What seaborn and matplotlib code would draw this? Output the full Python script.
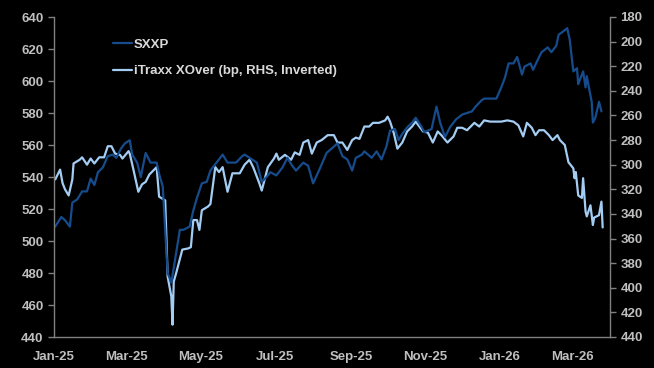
import pandas as pd
import matplotlib
matplotlib.use("Agg")
import matplotlib.pyplot as plt
import matplotlib.dates as mdates
import seaborn as sns

sns.set_style("dark")
plt.rcParams['font.family'] = ['Liberation Sans', 'DejaVu Sans']
plt.rcParams['font.weight'] = 'bold'

# SXXP index level (LHS)
sxxp_dates = [
    "2025-01-02", "2025-01-07", "2025-01-10", "2025-01-14", "2025-01-16", "2025-01-20",
    "2025-01-24", "2025-01-28", "2025-01-31", "2025-02-03", "2025-02-06", "2025-02-10",
    "2025-02-14", "2025-02-18", "2025-02-21", "2025-02-25", "2025-02-28", "2025-03-04",
    "2025-03-06", "2025-03-10", "2025-03-13", "2025-03-17", "2025-03-21", "2025-03-26",
    "2025-03-28", "2025-03-31", "2025-04-04", "2025-04-07", "2025-04-10", "2025-04-14",
    "2025-04-17", "2025-04-22", "2025-04-25", "2025-04-28", "2025-05-02", "2025-05-06",
    "2025-05-09", "2025-05-14", "2025-05-19", "2025-05-23", "2025-05-30", "2025-06-04",
    "2025-06-06", "2025-06-12", "2025-06-16", "2025-06-20", "2025-06-24", "2025-06-27",
    "2025-07-02", "2025-07-07", "2025-07-11", "2025-07-15", "2025-07-18", "2025-07-24",
    "2025-07-28", "2025-08-01", "2025-08-07", "2025-08-12", "2025-08-15", "2025-08-21",
    "2025-08-25", "2025-08-29", "2025-09-02", "2025-09-05", "2025-09-10", "2025-09-12",
    "2025-09-18", "2025-09-22", "2025-09-26", "2025-09-30", "2025-10-03", "2025-10-07",
    "2025-10-10", "2025-10-13", "2025-10-17", "2025-10-21", "2025-10-24", "2025-10-29",
    "2025-10-31", "2025-11-06", "2025-11-10", "2025-11-13", "2025-11-17", "2025-11-21",
    "2025-11-26", "2025-12-01", "2025-12-05", "2025-12-09", "2025-12-12", "2025-12-17",
    "2025-12-19", "2025-12-29", "2026-01-02", "2026-01-05", "2026-01-08", "2026-01-12",
    "2026-01-15", "2026-01-19", "2026-01-21", "2026-01-26", "2026-01-28", "2026-02-02",
    "2026-02-04", "2026-02-09", "2026-02-12", "2026-02-16", "2026-02-18", "2026-02-20",
    "2026-02-25", "2026-02-27", "2026-03-02", "2026-03-05", "2026-03-06", "2026-03-10",
    "2026-03-12", "2026-03-13", "2026-03-17", "2026-03-18", "2026-03-20", "2026-03-23",
    "2026-03-25",
]
sxxp_values = [
    509, 515, 513, 509, 524, 526,
    531, 531, 539, 535, 543, 546,
    553, 554, 552, 558, 561, 563,
    554, 549, 540, 555, 549, 549,
    542, 534, 480, 474, 488, 507,
    507, 509, 519, 527, 536, 537,
    544, 549, 554, 549, 549, 553,
    554, 551, 549, 537, 540, 543,
    541, 546, 552, 547, 544, 549,
    547, 536, 546, 555, 557, 561,
    553, 551, 544, 552, 554, 556,
    552, 556, 551, 559, 569, 570,
    563, 567, 571, 574, 577, 571,
    568, 570, 584, 574, 565, 571,
    576, 579, 580, 581, 584, 588,
    589, 589, 596, 602, 611, 611,
    615, 604, 609, 611, 607, 615,
    618, 621, 618, 622, 629, 630,
    633, 626, 606, 608, 598, 606,
    596, 603, 587, 574, 577, 587,
    581,
]

# iTraxx Crossover spread in bp (RHS, inverted)
xover_dates = [
    "2025-01-02", "2025-01-06", "2025-01-08", "2025-01-10", "2025-01-13", "2025-01-16",
    "2025-01-17", "2025-01-22", "2025-01-24", "2025-01-28", "2025-01-31", "2025-02-03",
    "2025-02-07", "2025-02-11", "2025-02-14", "2025-02-17", "2025-02-20", "2025-02-24",
    "2025-02-26", "2025-03-03", "2025-03-04", "2025-03-07", "2025-03-11", "2025-03-14",
    "2025-03-17", "2025-03-20", "2025-03-26", "2025-03-28", "2025-04-02", "2025-04-04",
    "2025-04-07", "2025-04-08", "2025-04-09", "2025-04-11", "2025-04-16", "2025-04-21",
    "2025-04-23", "2025-04-25", "2025-04-28", "2025-04-30", "2025-05-02", "2025-05-07",
    "2025-05-09", "2025-05-13", "2025-05-16", "2025-05-19", "2025-05-23", "2025-05-27",
    "2025-06-02", "2025-06-06", "2025-06-10", "2025-06-13", "2025-06-18", "2025-06-20",
    "2025-06-25", "2025-06-30", "2025-07-02", "2025-07-04", "2025-07-09", "2025-07-14",
    "2025-07-17", "2025-07-21", "2025-07-24", "2025-07-28", "2025-07-31", "2025-08-04",
    "2025-08-08", "2025-08-13", "2025-08-18", "2025-08-21", "2025-08-25", "2025-08-29",
    "2025-09-02", "2025-09-05", "2025-09-08", "2025-09-12", "2025-09-16", "2025-09-19",
    "2025-09-24", "2025-09-29", "2025-10-01", "2025-10-03", "2025-10-06", "2025-10-09",
    "2025-10-13", "2025-10-17", "2025-10-21", "2025-10-24", "2025-10-30", "2025-11-03",
    "2025-11-07", "2025-11-11", "2025-11-14", "2025-11-19", "2025-11-24", "2025-11-27",
    "2025-12-01", "2025-12-05", "2025-12-11", "2025-12-15", "2025-12-19", "2025-12-24",
    "2026-01-02", "2026-01-07", "2026-01-12", "2026-01-16", "2026-01-20", "2026-01-23",
    "2026-01-27", "2026-01-30", "2026-02-02", "2026-02-06", "2026-02-10", "2026-02-13",
    "2026-02-17", "2026-02-19", "2026-02-23", "2026-02-26", "2026-03-02", "2026-03-03",
    "2026-03-04", "2026-03-06", "2026-03-09", "2026-03-10", "2026-03-12", "2026-03-13",
    "2026-03-16", "2026-03-18", "2026-03-19", "2026-03-23", "2026-03-25", "2026-03-26",
]
xover_values = [
    312, 304, 315, 320, 325, 312,
    299, 296, 294, 300, 295, 299,
    294, 294, 285, 285, 291, 292,
    295, 289, 291, 304, 322, 316,
    314, 308, 302, 326, 329, 391,
    407, 430, 395, 388, 369, 368,
    367, 345, 345, 353, 337, 334,
    332, 302, 306, 302, 322, 307,
    307, 300, 296, 302, 315, 321,
    302, 295, 291, 296, 292, 296,
    290, 292, 282, 280, 291, 282,
    280, 276, 276, 282, 282, 288,
    280, 278, 279, 269, 269, 266,
    266, 264, 261, 265, 274, 287,
    282, 273, 269, 265, 273, 274,
    282, 273, 276, 282, 277, 270,
    270, 272, 266, 269, 264, 265,
    265, 264, 265, 268, 277, 266,
    270, 276, 272, 272, 276, 280,
    276, 280, 284, 298, 303, 311,
    306, 325, 327, 311, 338, 342,
    333, 349, 343, 341, 330, 351,
]

sxxp = pd.DataFrame({"date": pd.to_datetime(sxxp_dates), "value": sxxp_values})
xover = pd.DataFrame({"date": pd.to_datetime(xover_dates), "value": xover_values})

dark_blue = "#164c8c"
light_blue = "#a4cdf4"
axis_grey = "#808080"
text_grey = "#bfbfbf"

fig = plt.figure(figsize=(6.54, 3.68), dpi=100, facecolor="black")
ax = fig.add_axes([54 / 654, 1 - 337 / 368, 556 / 654, 320 / 368])
ax.set_facecolor("black")
ax2 = ax.twinx()

sns.lineplot(data=sxxp, x="date", y="value", color=dark_blue, linewidth=1.6,
             ax=ax, label="SXXP", legend=False)
sns.lineplot(data=xover, x="date", y="value", color=light_blue, linewidth=1.6,
             ax=ax2, label="iTraxx XOver (bp, RHS, Inverted)", legend=False)
ax.set_zorder(ax2.get_zorder() + 1)
ax.patch.set_visible(False)

ax.set_ylim(440, 640)
ax.set_yticks(range(440, 641, 20))
ax2.set_ylim(440, 180)
ax2.set_yticks(range(180, 441, 20))

ax.set_xlim(pd.Timestamp("2025-01-01"), pd.Timestamp("2026-04-01"))
ax.xaxis.set_major_locator(mdates.MonthLocator(bymonth=[1, 3, 5, 7, 9, 11]))
ax.xaxis.set_major_formatter(mdates.DateFormatter("%b-%y"))

for a in (ax, ax2):
    a.set_xlabel("")
    a.set_ylabel("")
    a.grid(False)
    for side in ("top", "left", "right", "bottom"):
        a.spines[side].set_visible(False)
    a.tick_params(colors=axis_grey, labelcolor=text_grey, labelsize=9.5,
                  direction="out", length=4, width=1)
    for lab in a.get_xticklabels() + a.get_yticklabels():
        lab.set_fontweight("bold")

ax.spines["left"].set_visible(True)
ax.spines["bottom"].set_visible(True)
ax2.spines["right"].set_visible(True)
for s in (ax.spines["left"], ax.spines["bottom"], ax2.spines["right"]):
    s.set_color(axis_grey)
    s.set_linewidth(1)
ax.tick_params(axis="x", pad=6)
ax2.tick_params(axis="x", bottom=False, labelbottom=False)

handles = ax.get_lines()[:1] + ax2.get_lines()[:1]
leg = ax.legend(handles, [h.get_label() for h in handles], loc="upper left",
                bbox_to_anchor=(0.085, 0.97), frameon=False, fontsize=9.5,
                handlelength=1.4, handletextpad=0.15, labelspacing=1.1)
for t in leg.get_texts():
    t.set_color("#d9d9d9")
    t.set_fontweight("bold")

fig.savefig("out.png", dpi=100, facecolor="black")
